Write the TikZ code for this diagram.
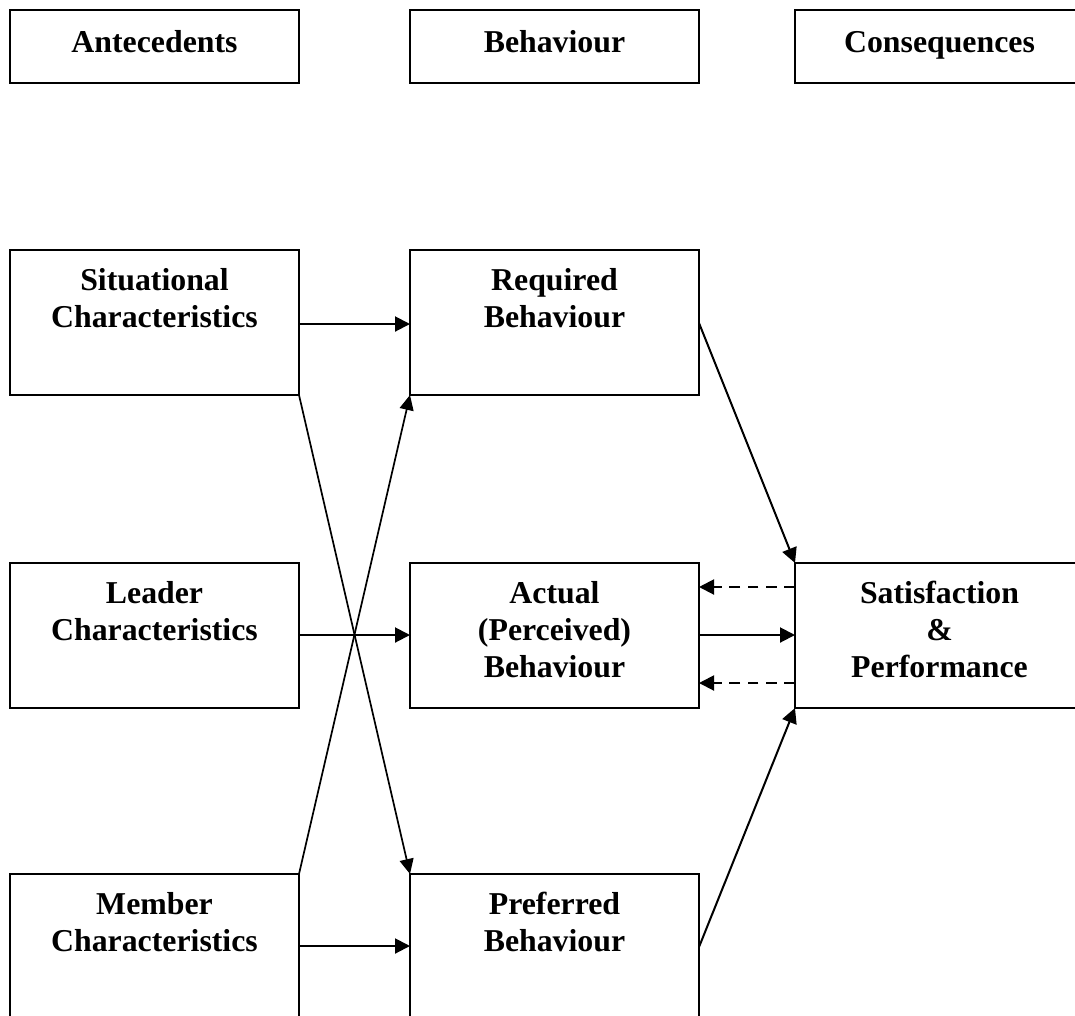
\documentclass[tikz,border=0pt]{standalone}
\usepackage{fontspec}
\setmainfont{Liberation Serif}
\usetikzlibrary{arrows.meta}
\newcommand{\mlines}[1]{\begin{tabular}[t]{@{}c@{}}#1\end{tabular}}
\begin{document}
\begin{tikzpicture}[x=1pt,y=-1pt,
  box/.style={draw, line width=2pt, minimum width=289pt, minimum height=145pt, inner sep=0pt, outer sep=0pt, anchor=north west, text height=40pt, text depth=105pt, font=\bfseries\fontsize{31.8pt}{37.3pt}\selectfont},
  head/.style={box, minimum height=73pt, text height=42pt, text depth=31pt, line width=2.3pt},
  arr/.style={line width=2pt, -{Triangle[length=15pt,width=15pt]}},
  dasharr/.style={arr, dash pattern=on 10.7pt off 7.6pt},
  crossarr/.style={line width=1.7pt, -{Triangle[length=15pt,width=14pt]}}]
\useasboundingbox (0,0) rectangle (1075,1015);
\fill[white] (0,0) rectangle (1075,1015);
% header boxes
\node[head] (ant) at (10,10) {Antecedents};
\node[head] (beh) at (410,10) {Behaviour};
\node[head] (con) at (795,10) {Consequences};
% model boxes
\node[box] (sit) at (10,250) {\mlines{Situational\\Characteristics}};
\node[box] (req) at (410,250) {\mlines{Required\\Behaviour}};
\node[box] (lea) at (10,563) {\mlines{Leader\\Characteristics}};
\node[box] (act) at (410,563) {\mlines{Actual\\(Perceived)\\Behaviour}};
\node[box] (sat) at (795,563) {\mlines{Satisfaction\\\&\\Performance}};
\node[box] (mem) at (10,874) {\mlines{Member\\Characteristics}};
\node[box] (pre) at (410,874) {\mlines{Preferred\\Behaviour}};
% connectors
\draw[arr] ([yshift=-74pt]sit.north east) -- ([yshift=-74pt]req.north west);
\draw[arr] ([yshift=-72pt]lea.north east) -- ([yshift=-72pt]act.north west);
\draw[arr] ([yshift=-72pt]mem.north east) -- ([yshift=-72pt]pre.north west);
\draw[crossarr] (sit.south east) -- (pre.north west);
\draw[crossarr] (mem.north east) -- (req.south west);
\draw[arr] ([yshift=-73pt]req.north east) -- (sat.north west);
\draw[arr] ([yshift=-73pt]pre.north east) -- (sat.south west);
\draw[arr] ([yshift=-72pt]act.north east) -- ([yshift=-72pt]sat.north west);
\draw[dasharr] ([yshift=-24pt]sat.north west) -- ([yshift=-24pt]act.north east);
\draw[dasharr] ([yshift=-120pt]sat.north west) -- ([yshift=-120pt]act.north east);
\end{tikzpicture}
\end{document}
